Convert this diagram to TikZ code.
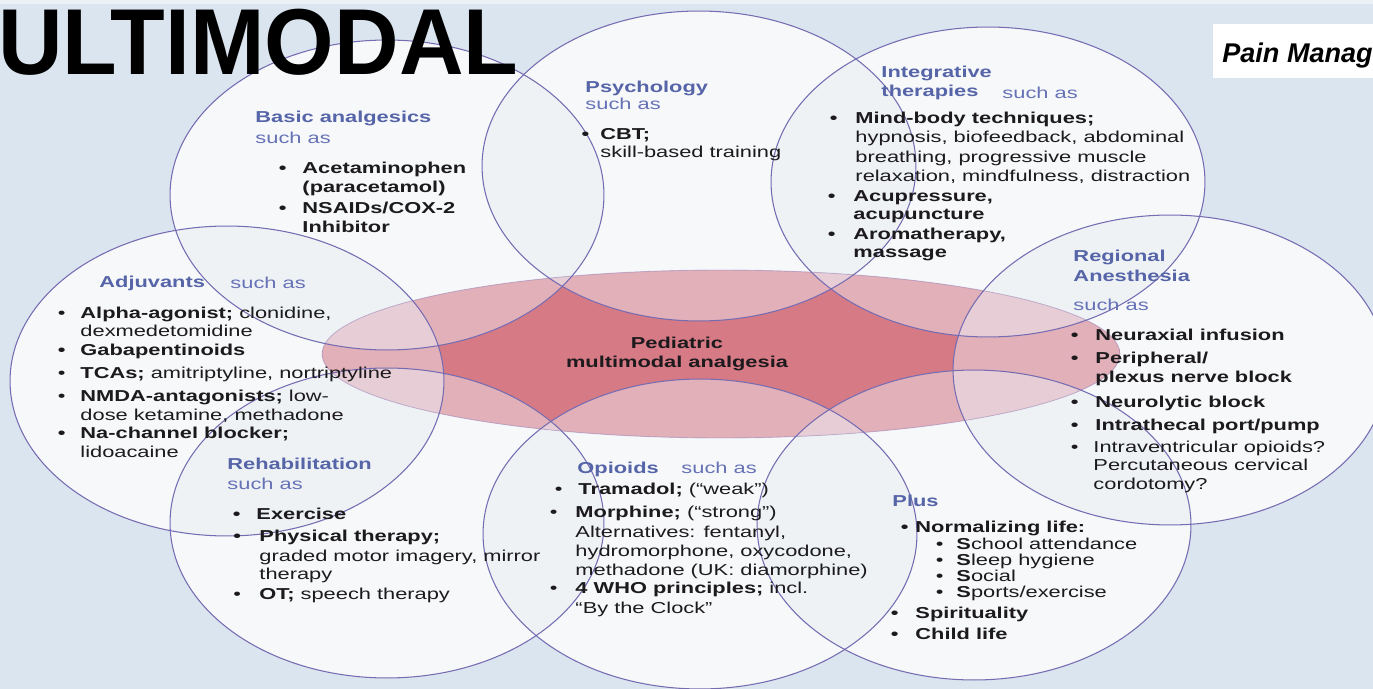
\documentclass[tikz,border=0pt]{standalone}
\usepackage{fontspec}
\setmainfont{Liberation Sans}

\definecolor{bgblue}{RGB}{219,229,239}
\definecolor{topstrip}{RGB}{236,241,246}
\definecolor{circtint}{RGB}{95,135,170}
\definecolor{circline}{RGB}{118,108,178}
\definecolor{midred}{RGB}{214,122,134}
\definecolor{midpale}{RGB}{224,160,172}
\definecolor{veil}{RGB}{240,245,252}
\definecolor{headblue}{RGB}{86,100,168}
\definecolor{suchblue}{RGB}{102,114,182}
\definecolor{inkblack}{RGB}{28,26,28}

\pgfdeclarehorizontalshading{midfade}{100bp}{color(0bp)=(midpale); color(16bp)=(midred); color(84bp)=(midred); color(100bp)=(midpale)}

\newcommand{\bodyfont}{\fontsize{9}{10.8}\selectfont}
\newcommand{\bul}[1][6.6pt]{\llap{\textbullet\hspace{#1}}}

\tikzset{
	plaintxt/.style={anchor=base west, inner sep=0pt, font=\bodyfont, text=inkblack, xscale=1.38},
	boldtxt/.style={plaintxt, font=\bodyfont\bfseries},
	headtxt/.style={boldtxt, text=headblue},
	suchtxt/.style={plaintxt, text=suchblue},
	midtxt/.style={boldtxt, anchor=base},
	circ/.style={x radius=4.34cm, y radius=3.1cm},
	lens/.style={x radius=7.98cm, y radius=1.68cm}
}

\begin{document}
\begin{tikzpicture}[x=0.02cm, y=-0.02cm]
	\clip (0,0) rectangle (1373,689);
	\fill[bgblue] (0,0) rectangle (1373,689);
	\fill[topstrip] (0,0) rectangle (1373,4);
	
	% circle centres
	\coordinate (basic-c) at (387,195);
	\coordinate (psych-c) at (699,166);
	\coordinate (integ-c) at (988,182);
	\coordinate (adjuv-c) at (227,381);
	\coordinate (region-c) at (1170,370);
	\coordinate (rehab-c) at (387,523);
	\coordinate (opioid-c) at (700,534);
	\coordinate (plus-c) at (974,525);
	\coordinate (mid-c) at (721,354);
	
	\foreach \c in {basic,psych,integ,adjuv,region,rehab,opioid,plus}
		\fill[white] (\c-c) ellipse [circ];
	\foreach \c in {basic,psych,integ,adjuv,region,rehab,opioid,plus}
		\fill[circtint, fill opacity=0.05] (\c-c) ellipse [circ];
	
	% central ellipse, paler where the circles lie on it
	\shade[shading=midfade] (mid-c) ellipse [lens];
	\begin{scope}
		\clip (mid-c) ellipse [lens];
		\foreach \c in {basic,psych,integ,adjuv,region,rehab,opioid,plus}
			\fill[veil, fill opacity=0.44] (\c-c) ellipse [circ];
	\end{scope}
	\draw[circline, draw opacity=0.35, line width=0.5pt] (mid-c) ellipse [lens];
	\foreach \c in {basic,psych,integ,adjuv,region,rehab,opioid,plus}
		\draw[circline, line width=0.6pt] (\c-c) ellipse [circ];
	
	% header
	\node[anchor=base west, inner sep=0pt, font=\fontsize{53.3}{60}\selectfont\bfseries, text=black, xscale=0.955] at (-2,75) (title) {ULTIMODAL};
	\fill[white] (1213,24) rectangle (1373,78);
	\node[anchor=base west, inner sep=0pt, font=\fontsize{15.4}{18}\selectfont\bfseries\itshape, text=black] at (1222,63) (pain) {Pain Manag};
	
	% Basic analgesics
	\node[headtxt] at (255,123) (basic-head) {Basic analgesics};
	\node[suchtxt] at (255,144) (basic-such) {such as};
	\node[boldtxt] at (302,174) (basic-1) {\bul Acetaminophen};
	\node[boldtxt] at (302,193) (basic-1b) {(paracetamol)};
	\node[boldtxt] at (302,214) (basic-2) {\bul NSAIDs/COX-2};
	\node[boldtxt] at (302,233) (basic-2b) {Inhibitor};
	
	% Psychology
	\node[headtxt] at (585,93) (psych-head) {Psychology};
	\node[suchtxt] at (585,110) (psych-such) {such as};
	\node[boldtxt] at (600,140) (psych-1) {\bul[4.6pt]CBT;};
	\node[plaintxt] at (600,158) (psych-1b) {skill-based training};
	
	% Integrative therapies
	\node[headtxt] at (881,78) (integ-head) {Integrative};
	\node[headtxt] at (881,97) (integ-head2) {therapies};
	\node[suchtxt] at (1002,99) (integ-such) {such as};
	\node[boldtxt] at (855,124) (integ-1) {\bul[7.4pt]Mind-body techniques;};
	\node[plaintxt] at (855,143) (integ-1b) {hypnosis, biofeedback, abdominal};
	\node[plaintxt] at (855,163) (integ-1c) {breathing, progressive muscle};
	\node[plaintxt] at (855,182) (integ-1d) {relaxation, mindfulness, distraction};
	\node[boldtxt] at (853,202) (integ-2) {\bul[7.4pt]Acupressure,};
	\node[boldtxt] at (853,220) (integ-2b) {acupuncture};
	\node[boldtxt] at (853,240) (integ-3) {\bul[7.4pt]Aromatherapy,};
	\node[boldtxt] at (853,258) (integ-3b) {massage};
	
	% Adjuvants
	\node[headtxt] at (99,288) (adjuv-head) {Adjuvants};
	\node[suchtxt] at (230,289) (adjuv-such) {such as};
	\node[plaintxt] at (80,318) (adjuv-1) {\bul[6.2pt]{\bfseries Alpha-agonist;} clonidine,};
	\node[plaintxt] at (80,337) (adjuv-1b) {dexmedetomidine};
	\node[boldtxt] at (80,356) (adjuv-2) {\bul[6.2pt]Gabapentinoids};
	\node[plaintxt] at (80,378) (adjuv-3) {\bul[6.2pt]{\bfseries TCAs;} amitriptyline, nortriptyline};
	\node[plaintxt] at (80,401) (adjuv-4) {\bul[6.2pt]{\bfseries NMDA-antagonists;} low-};
	\node[plaintxt] at (80,420) (adjuv-4b) {dose ketamine, methadone};
	\node[boldtxt] at (80,438) (adjuv-5) {\bul[6.2pt]Na-channel blocker;};
	\node[plaintxt] at (80,457) (adjuv-5b) {lidoacaine};
	
	% Regional anesthesia
	\node[headtxt] at (1073,262) (region-head) {Regional};
	\node[headtxt] at (1073,282) (region-head2) {Anesthesia};
	\node[suchtxt] at (1073,311) (region-such) {such as};
	\node[boldtxt] at (1095,340) (region-1) {\bul[7pt]Neuraxial infusion};
	\node[boldtxt] at (1095,363) (region-2) {\bul[7pt]Peripheral/};
	\node[boldtxt] at (1095,382) (region-2b) {plexus nerve block};
	\node[boldtxt] at (1095,407) (region-3) {\bul[7pt]Neurolytic block};
	\node[boldtxt] at (1095,430) (region-4) {\bul[7pt]Intrathecal port/pump};
	\node[plaintxt] at (1093,452) (region-5) {\bul[6.2pt]Intraventricular opioids?};
	\node[plaintxt] at (1093,470) (region-5b) {Percutaneous cervical};
	\node[plaintxt] at (1093,489) (region-5c) {cordotomy?};
	
	% Rehabilitation
	\node[headtxt] at (227,469) (rehab-head) {Rehabilitation};
	\node[suchtxt] at (227,489) (rehab-such) {such as};
	\node[boldtxt] at (256,519) (rehab-1) {\bul Exercise};
	\node[boldtxt] at (259,541) (rehab-2) {\bul[7.6pt]Physical therapy;};
	\node[plaintxt] at (259,561) (rehab-2b) {graded motor imagery, mirror};
	\node[plaintxt] at (259,579) (rehab-2c) {therapy};
	\node[plaintxt] at (259,599) (rehab-3) {\bul[7.6pt]{\bfseries OT;} speech therapy};
	
	% Opioids
	\node[headtxt] at (577,473) (opioid-head) {Opioids};
	\node[suchtxt] at (681,473) (opioid-such) {such as};
	\node[plaintxt] at (578,494) (opioid-1) {\bul{\bfseries Tramadol;} (“weak”)};
	\node[plaintxt] at (575,517) (opioid-2) {\bul[7.4pt]{\bfseries Morphine;} (“strong”)};
	\node[plaintxt] at (575,537) (opioid-2b) {Alternatives: fentanyl,};
	\node[plaintxt] at (575,556) (opioid-2c) {hydromorphone, oxycodone,};
	\node[plaintxt] at (575,575) (opioid-2d) {methadone (UK: diamorphine)};
	\node[plaintxt] at (575,593) (opioid-3) {\bul[7.4pt]{\bfseries 4 WHO principles;} incl.};
	\node[plaintxt] at (575,613) (opioid-3b) {“By the Clock”};
	
	% Plus
	\node[headtxt] at (892,506) (plus-head) {Plus};
	\node[boldtxt] at (915,532) (plus-1) {\bul[2.9pt]Normalizing life:};
	\node[plaintxt] at (956,549) (plus-1a) {\bul[5.4pt]{\bfseries S}chool attendance};
	\node[plaintxt] at (956,565) (plus-1b) {\bul[5.4pt]{\bfseries S}leep hygiene};
	\node[plaintxt] at (956,581) (plus-1c) {\bul[5.4pt]{\bfseries S}ocial};
	\node[plaintxt] at (956,597) (plus-1d) {\bul[5.4pt]{\bfseries S}ports/exercise};
	\node[boldtxt] at (915,618) (plus-2) {\bul[7pt]Spirituality};
	\node[boldtxt] at (915,639) (plus-3) {\bul[7pt]Child life};
	
	% centre
	\node[midtxt] at (677,348) (mid-1) {Pediatric};
	\node[midtxt] at (677,367) (mid-2) {multimodal analgesia};
\end{tikzpicture}
\end{document}
